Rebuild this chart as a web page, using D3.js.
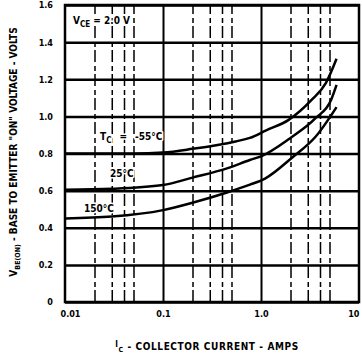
<!DOCTYPE html>
<html>
<head>
<meta charset="utf-8">
<script src="https://cdn.jsdelivr.net/npm/d3@7"></script>
<style>
  body { margin: 0; background: #fff; }
  text { font-family: "DejaVu Sans Condensed", "DejaVu Sans", sans-serif; font-weight: bold; fill: #000; }
  .halo { stroke: #fff; stroke-width: 3px; paint-order: stroke; }
</style>
</head>
<body>
<svg id="chart" width="362" height="358"></svg>
<script>
// axis ticks
const xMajor = [0.01, 0.1, 1, 10];
const xMajorLabels = ['0.01', '0.1', '1.0', '10'];
const xMinor = [0.02, 0.03, 0.04, 0.05, 0.2, 0.3, 0.4, 0.5, 2, 3, 4, 5];
const yTicks = [0, 0.2, 0.4, 0.6, 0.8, 1.0, 1.2, 1.4, 1.6];
const yTickLabels = ['0', '0.2', '0.4', '0.6', '0.8', '1.0', '1.2', '1.4', '1.6'];

// curves
const icM55 = [0.01, 0.05, 0.1, 0.2, 0.55, 0.77, 1.13, 1.9, 3.3, 4.6, 5.9];
const vbeM55 = [0.80, 0.80, 0.805, 0.825, 0.865, 0.884, 0.925, 0.98, 1.09, 1.18, 1.31];
const ic25 = [0.01, 0.03, 0.1, 0.2, 0.45, 0.77, 1.0, 1.95, 3.6, 5.2, 5.9];
const vbe25 = [0.605, 0.61, 0.63, 0.67, 0.72, 0.765, 0.785, 0.88, 0.99, 1.09, 1.17];
const ic150 = [0.01, 0.03, 0.1, 0.2, 0.45, 0.77, 1.1, 2.1, 3.6, 5.9];
const vbe150 = [0.45, 0.46, 0.495, 0.535, 0.59, 0.632, 0.665, 0.78, 0.89, 1.05];

const svg = d3.select('#chart');
const plotLeft = 65, plotRight = 359, plotTop = 5, plotBottom = 302;

const x = d3.scaleLog().domain([0.01, 10]).range([plotLeft, plotRight]);
const y = d3.scaleLinear().domain([0, 1.6]).range([plotBottom, plotTop]);

// minor vertical grid (broken, like the print)
svg.append('g')
    .attr('transform', `translate(0,${plotBottom})`)
    .call(d3.axisBottom(x).tickValues(xMinor).tickSize(-(plotBottom - plotTop)).tickFormat(''))
    .call(g => g.select('.domain').remove())
    .selectAll('line')
    .attr('stroke', '#000')
    .attr('stroke-width', 1.5)
    .attr('stroke-dasharray', '12,3,5,4');

// decade lines
svg.append('g')
    .attr('transform', `translate(0,${plotBottom})`)
    .call(d3.axisBottom(x).tickValues([0.1, 1]).tickSize(-(plotBottom - plotTop)).tickFormat(''))
    .call(g => g.select('.domain').remove())
    .selectAll('line')
    .attr('stroke', '#000')
    .attr('stroke-width', 2);

// horizontal grid
svg.append('g')
    .attr('transform', `translate(${plotLeft},0)`)
    .call(d3.axisLeft(y).tickValues(yTicks).tickSize(-(plotRight - plotLeft)).tickFormat(''))
    .call(g => g.select('.domain').remove())
    .selectAll('line')
    .attr('stroke', '#000')
    .attr('stroke-width', 2.5);

// frame
svg.append('rect')
    .attr('x', x(0.01)).attr('y', y(1.6))
    .attr('width', x(10) - x(0.01)).attr('height', y(0) - y(1.6))
    .attr('fill', 'none').attr('stroke', '#000').attr('stroke-width', 2.5);

// tick labels
svg.append('g')
    .attr('transform', `translate(0,${plotBottom + 6})`)
    .call(d3.axisBottom(x).tickValues(xMajor).tickSize(0).tickFormat((d, i) => xMajorLabels[i]))
    .call(g => g.select('.domain').remove())
    .selectAll('text')
    .attr('font-size', 9)
    .attr('text-anchor', (d, i) => i === 0 ? 'start' : (i === xMajor.length - 1 ? 'end' : 'middle'))
    .attr('dx', (d, i) => i === 0 ? -5 : 0);

svg.append('g')
    .attr('transform', `translate(${plotLeft - 9},0)`)
    .call(d3.axisLeft(y).tickValues(yTicks).tickSize(0).tickFormat((d, i) => yTickLabels[i]))
    .call(g => g.select('.domain').remove())
    .selectAll('text')
    .attr('font-size', 9);

// curves
const line = d3.line()
    .x(d => x(d[0]))
    .y(d => y(d[1]))
    .curve(d3.curveMonotoneX);

[[icM55, vbeM55], [ic25, vbe25], [ic150, vbe150]].forEach(([ic, v]) => {
  svg.append('path')
      .datum(d3.zip(ic, v))
      .attr('d', line)
      .attr('fill', 'none')
      .attr('stroke', '#000')
      .attr('stroke-width', 2.5);
});

// annotations
const vce = svg.append('text').attr('class', 'halo').attr('x', x(0.0121)).attr('y', y(1.50)).attr('font-size', 10);
vce.append('tspan').text('V');
vce.append('tspan').attr('dy', 3).attr('font-size', 8).text('CE');
vce.append('tspan').attr('dy', -3).attr('dx', 3).text('= 2.0 V');

const tc = svg.append('text').attr('class', 'halo').attr('x', x(0.0228)).attr('y', y(0.873)).attr('font-size', 10);
tc.append('tspan').text('T');
tc.append('tspan').attr('dy', 3).attr('font-size', 8).text('C');
tc.append('tspan').attr('dy', -3).attr('dx', 8).text('=');
tc.append('tspan').attr('dx', 8).text('-55°C');

svg.append('text').attr('class', 'halo').attr('x', x(0.0288)).attr('y', y(0.673)).attr('font-size', 10).text('25°C');
svg.append('text').attr('class', 'halo').attr('x', x(0.0156)).attr('y', y(0.485)).attr('font-size', 10).text('150°C');

// axis titles
const xt = svg.append('text')
    .attr('x', 207).attr('y', 350)
    .attr('text-anchor', 'middle')
    .attr('font-size', 10)
    .attr('letter-spacing', 0.6);
xt.append('tspan').attr('font-size', 8).attr('dy', -3).text('I');
xt.append('tspan').attr('font-size', 7).attr('dy', 5).text('C');
xt.append('tspan').attr('dy', -2).text(' - COLLECTOR CURRENT - AMPS');

const yt = svg.append('text')
    .attr('transform', 'translate(17,152) rotate(-90)')
    .attr('text-anchor', 'middle')
    .attr('font-size', 10);
yt.append('tspan').text('V');
yt.append('tspan').attr('dy', 3).attr('font-size', 7).text('BE(ON)');
yt.append('tspan').attr('dy', -3).text(' - BASE TO EMITTER "ON" VOLTAGE - VOLTS');
</script>
</body>
</html>
